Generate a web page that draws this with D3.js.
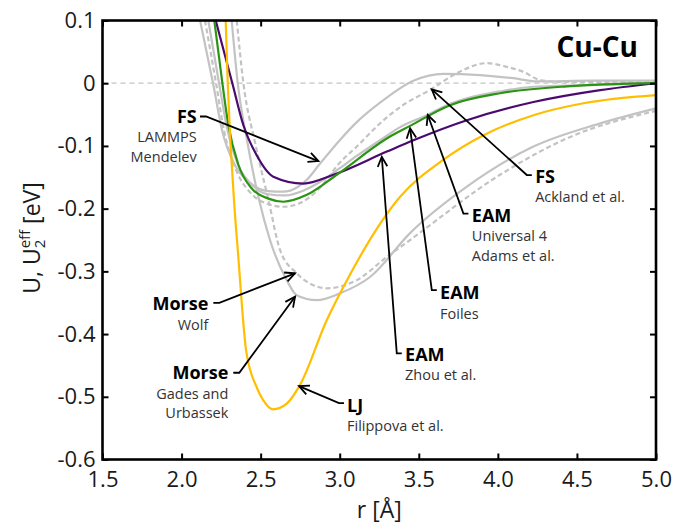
<!DOCTYPE html>
<html>
<head>
<meta charset="utf-8">
<script src="https://cdn.jsdelivr.net/npm/d3@7"></script>
<style>
  body { margin: 0; background: #fff; }
  svg { display: block; }
  text { font-family: "Open Sans", "Noto Sans", sans-serif; }
</style>
</head>
<body>
<svg id="chart" width="673" height="526"></svg>
<script>
// Axis ticks
const xTicks = [1.5, 2.0, 2.5, 3.0, 3.5, 4.0, 4.5, 5.0];
const yTicks = [0.1, 0, -0.1, -0.2, -0.3, -0.4, -0.5, -0.6];

// Effective Cu-Cu pair potentials, [r (Å), U (eV)]
const fsMendelev = [[2.117,0.100],[2.199,0.000],[2.256,-0.075],[2.338,-0.131],[2.433,-0.159],[2.547,-0.172],[2.642,-0.173],[2.737,-0.165],[2.792,-0.154],[2.876,-0.128],[3.003,-0.090],[3.108,-0.062],[3.255,-0.031],[3.466,0.004],[3.656,0.015],[3.888,0.013],[4.098,0.008],[4.246,0.003],[4.600,0.004],[5.000,0.004]];
const fsAckland = [[2.148,0.100],[2.218,0.000],[2.268,-0.075],[2.344,-0.138],[2.433,-0.174],[2.528,-0.191],[2.642,-0.197],[2.749,-0.191],[2.863,-0.170],[3.003,-0.126],[3.108,-0.101],[3.255,-0.064],[3.382,-0.038],[3.582,-0.009],[3.740,0.016],[3.930,0.032],[4.057,0.026],[4.162,0.018],[4.267,0.005],[4.394,0.002],[5.000,0.002]];
const eamAdams = [[2.169,0.100],[2.237,0.000],[2.287,-0.071],[2.357,-0.130],[2.446,-0.162],[2.547,-0.177],[2.654,-0.179],[2.781,-0.170],[2.897,-0.154],[3.003,-0.135],[3.108,-0.116],[3.255,-0.091],[3.382,-0.070],[3.551,-0.051],[3.677,-0.035],[3.804,-0.024],[4.014,-0.013],[4.204,-0.006],[4.541,-0.003],[5.000,0.000]];
const morseWolf = [[2.349,0.100],[2.391,0.000],[2.465,-0.095],[2.549,-0.186],[2.623,-0.266],[2.728,-0.303],[2.833,-0.322],[2.918,-0.327],[3.108,-0.314],[3.298,-0.277],[3.445,-0.250],[4.014,-0.146],[4.436,-0.088],[5.000,-0.044]];
const morseGades = [[2.317,0.100],[2.355,0.000],[2.414,-0.091],[2.490,-0.186],[2.559,-0.250],[2.665,-0.314],[2.728,-0.338],[2.855,-0.346],[3.002,-0.335],[3.192,-0.309],[3.445,-0.239],[3.804,-0.165],[4.225,-0.101],[4.647,-0.064],[5.000,-0.040]];
const eamZhou = [[2.216,0.100],[2.321,0.000],[2.391,-0.067],[2.475,-0.115],[2.580,-0.149],[2.770,-0.160],[2.960,-0.146],[3.298,-0.109],[3.466,-0.091],[3.804,-0.059],[4.225,-0.030],[4.647,-0.011],[5.000,0.000]];
const eamFoiles = [[2.207,0.100],[2.258,0.000],[2.296,-0.067],[2.359,-0.130],[2.444,-0.168],[2.549,-0.184],[2.644,-0.189],[2.792,-0.178],[2.981,-0.146],[3.318,-0.085],[3.445,-0.068],[3.698,-0.035],[4.014,-0.016],[4.436,-0.005],[5.000,0.000]];
const ljFilippova = [[2.279,0.100],[2.292,0.000],[2.338,-0.210],[2.357,-0.271],[2.408,-0.426],[2.477,-0.486],[2.515,-0.505],[2.578,-0.520],[2.665,-0.511],[2.749,-0.481],[2.918,-0.378],[3.023,-0.325],[3.382,-0.181],[3.656,-0.122],[3.909,-0.083],[4.225,-0.051],[4.541,-0.032],[5.000,-0.019]];

// Drawing order and line styles
const seriesStyles = [
  { data: fsMendelev,  color: "#c3c3c3", dash: null },
  { data: fsAckland,   color: "#c3c3c3", dash: "5,3" },
  { data: eamAdams,    color: "#c3c3c3", dash: null },
  { data: morseWolf,   color: "#c3c3c3", dash: "5,3" },
  { data: morseGades,  color: "#c3c3c3", dash: null },
  { data: eamZhou,     color: "#4b0b6e", dash: null },
  { data: eamFoiles,   color: "#2c9414", dash: null },
  { data: ljFilippova, color: "#ffbf00", dash: null }
];

// Callouts: label anchor, arrow tail and tip, all in (r, U)
const callouts = [
  { title: "FS",    sub: ["LAMMPS", "Mendelev"],         at: [2.0957,-0.0630], align: "end",   tail: [2.1167,-0.0531], tip: [2.8650,-0.1241] },
  { title: "FS",    sub: ["Ackland et al."],             at: [4.2357,-0.1584], align: "start", tail: [4.2148,-0.1464], tip: [3.5822,-0.0097] },
  { title: "EAM",   sub: ["Universal 4", "Adams et al."], at: [3.8354,-0.2209], align: "start", tail: [3.8139,-0.2078], tip: [3.5569,-0.0507] },
  { title: "EAM",   sub: ["Foiles"],                     at: [3.6348,-0.3442], align: "start", tail: [3.6139,-0.3298], tip: [3.4450,-0.0719] },
  { title: "EAM",   sub: ["Zhou et al."],                at: [3.4133,-0.4426], align: "start", tail: [3.3925,-0.4308], tip: [3.2660,-0.1172] },
  { title: "Morse", sub: ["Wolf"],                       at: [2.1692,-0.3617], align: "end",   tail: [2.2008,-0.3501], tip: [2.7176,-0.3032] },
  { title: "Morse", sub: ["Gades and", "Urbassek"],      at: [2.2957,-0.4722], align: "end",   tail: [2.3271,-0.4617], tip: [2.7176,-0.3405] },
  { title: "LJ",    sub: ["Filippova et al."],           at: [3.0461,-0.5239], align: "start", tail: [3.0271,-0.5100], tip: [2.7428,-0.4829] }
];

const svg = d3.select("#chart");
const x = d3.scaleLinear().domain([1.5, 5.0]).range([102.5, 656]);
const y = d3.scaleLinear().domain([-0.6, 0.1]).range([459.5, 20.5]);
const [x0, x1] = x.range();
const [y0, y1] = y.range();

svg.append("defs").append("clipPath").attr("id", "plot-clip")
  .append("rect").attr("x", x0).attr("y", y1).attr("width", x1 - x0).attr("height", y0 - y1);

// zero reference line
svg.append("line")
  .attr("x1", x0).attr("x2", x1).attr("y1", y(0)).attr("y2", y(0))
  .attr("stroke", "#c3c3c3").attr("stroke-width", 1.3).attr("stroke-dasharray", "5,4");

const line = d3.line().x(d => x(d[0])).y(d => y(d[1])).curve(d3.curveMonotoneX);
const curves = svg.append("g").attr("clip-path", "url(#plot-clip)");
seriesStyles.forEach(s => {
  curves.append("path")
    .attr("d", line(s.data))
    .attr("fill", "none")
    .attr("stroke", s.color)
    .attr("stroke-width", 2.2)
    .attr("stroke-dasharray", s.dash)
    .attr("stroke-linejoin", "round");
});

// axes with inward ticks on all four sides
const fmt = d => d === 0 ? "0" : d.toFixed(1);
function styleAxis(g) {
  g.select(".domain").remove();
  g.selectAll(".tick line").attr("stroke", "#000").attr("stroke-width", 2);
  g.selectAll(".tick text").attr("fill", "#1a1a1a").attr("font-size", 22)
    .attr("font-family", "'Open Sans', 'Noto Sans', sans-serif");
}
svg.append("g").attr("transform", `translate(0,${y0})`)
  .call(d3.axisBottom(x).tickValues(xTicks).tickSize(-6).tickPadding(12).tickFormat(d => d.toFixed(1)))
  .call(styleAxis);
svg.append("g").attr("transform", `translate(0,${y1})`)
  .call(d3.axisTop(x).tickValues(xTicks).tickSize(-6).tickFormat(""))
  .call(styleAxis);
svg.append("g").attr("transform", `translate(${x0},0)`)
  .call(d3.axisLeft(y).tickValues(yTicks).tickSize(-6).tickPadding(7).tickFormat(fmt))
  .call(styleAxis);
svg.append("g").attr("transform", `translate(${x1},0)`)
  .call(d3.axisRight(y).tickValues(yTicks).tickSize(-6).tickFormat(""))
  .call(styleAxis);

svg.append("rect")
  .attr("x", x0).attr("y", y1).attr("width", x1 - x0).attr("height", y0 - y1)
  .attr("fill", "none").attr("stroke", "#000").attr("stroke-width", 2.6);

// axis titles
svg.append("text")
  .attr("x", (x0 + x1) / 2).attr("y", 518)
  .attr("text-anchor", "middle").attr("font-size", 23).attr("fill", "#1a1a1a")
  .text("r [Å]");

const yTitle = svg.append("text")
  .attr("transform", "translate(40,238) rotate(-90)")
  .attr("text-anchor", "middle").attr("font-size", 23).attr("fill", "#1a1a1a");
yTitle.append("tspan").text("U, U");
yTitle.append("tspan").attr("font-size", 15).attr("dy", 5).text("2");
yTitle.append("tspan").attr("font-size", 15).attr("dx", -8.6).attr("dy", -15).text("eff");
yTitle.append("tspan").attr("dy", 10).text(" [eV]");

// panel title
svg.append("text")
  .attr("x", 638).attr("y", 57).attr("text-anchor", "end")
  .attr("font-size", 28).attr("font-weight", 700).attr("fill", "#000")
  .text("Cu-Cu");

// callouts
const notes = svg.append("g");
callouts.forEach(c => {
  const ax = x(c.at[0]), ay = y(c.at[1]);
  const tx = x(c.tail[0]), ty = y(c.tail[1]);
  const px = x(c.tip[0]), py = y(c.tip[1]);
  const stub = c.align === "end" ? 6 : -5;
  const bx = tx + stub, by = ty;
  notes.append("polyline")
    .attr("points", [[tx, ty], [bx, by], [px, py]].map(p => p.join(",")).join(" "))
    .attr("fill", "none").attr("stroke", "#000").attr("stroke-width", 1.8);
  const ang = Math.atan2(py - by, px - bx);
  const len = 11, spread = 0.45;
  const head = [
    [px - len * Math.cos(ang - spread), py - len * Math.sin(ang - spread)],
    [px, py],
    [px - len * Math.cos(ang + spread), py - len * Math.sin(ang + spread)]
  ];
  notes.append("polyline")
    .attr("points", head.map(p => p.join(",")).join(" "))
    .attr("fill", "none").attr("stroke", "#000").attr("stroke-width", 1.8);

  notes.append("text")
    .attr("x", ax).attr("y", ay).attr("text-anchor", c.align)
    .attr("font-size", 18).attr("font-weight", 700).attr("fill", "#000")
    .text(c.title);
  c.sub.forEach((s, i) => {
    notes.append("text")
      .attr("x", ax).attr("y", ay + 19.5 * (i + 1)).attr("text-anchor", c.align)
      .attr("font-size", 14.5).attr("fill", "#333")
      .text(s);
  });
});
</script>
</body>
</html>
